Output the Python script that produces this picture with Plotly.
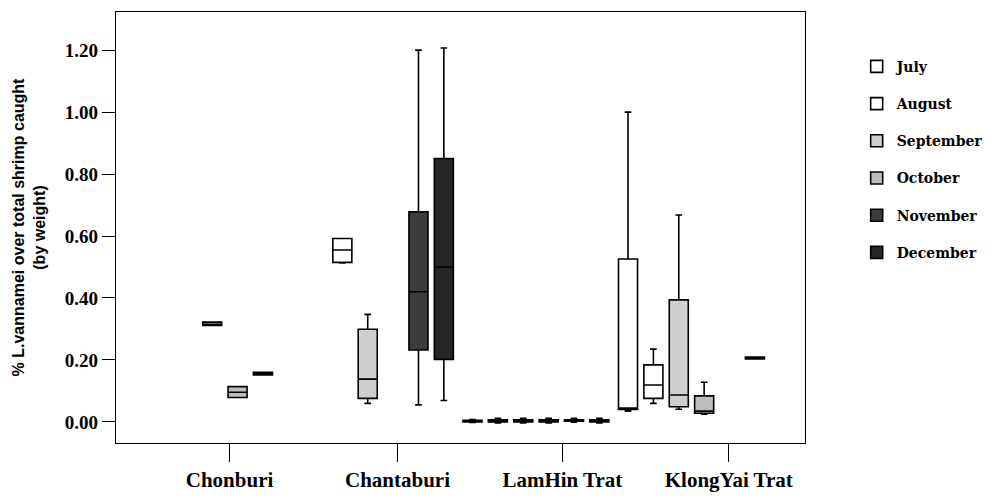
import plotly.graph_objects as go

regions = ["Chonburi", "Chantaburi", "LamHin Trat", "KlongYai Trat"]
months = ["July", "August", "September", "October", "November", "December"]

# region index (0..3) for each box of a month, then its five-number summary
july_pos = [2, 3]
july_low = [-0.002, 0.035]
july_q1 = [0.000, 0.040]
july_med = [0.002, 0.045]
july_q3 = [0.005, 0.526]
july_high = [0.008, 1.000]

august_pos = [1, 2, 3]
august_low = [0.513, -0.003, 0.060]
august_q1 = [0.515, 0.000, 0.076]
august_med = [0.555, 0.004, 0.119]
august_q3 = [0.592, 0.007, 0.184]
august_high = [0.592, 0.012, 0.235]

september_pos = [0, 1, 2, 3]
september_low = [0.311, 0.060, -0.003, 0.041]
september_q1 = [0.311, 0.076, 0.000, 0.049]
september_med = [0.315, 0.138, 0.004, 0.087]
september_q3 = [0.322, 0.299, 0.007, 0.394]
september_high = [0.322, 0.347, 0.012, 0.668]

october_pos = [0, 2, 3]
october_low = [0.079, -0.003, 0.025]
october_q1 = [0.079, 0.000, 0.028]
october_med = [0.096, 0.004, 0.035]
october_q3 = [0.114, 0.007, 0.084]
october_high = [0.114, 0.012, 0.128]

november_pos = [0, 1, 2]
november_low = [0.152, 0.055, -0.001]
november_q1 = [0.152, 0.232, 0.002]
november_med = [0.156, 0.420, 0.005]
november_q3 = [0.160, 0.678, 0.007]
november_high = [0.160, 1.200, 0.012]

december_pos = [1, 2, 3]
december_low = [0.069, -0.003, 0.203]
december_q1 = [0.202, 0.000, 0.203]
december_med = [0.500, 0.004, 0.206]
december_q3 = [0.850, 0.007, 0.209]
december_high = [1.207, 0.012, 0.209]

y_ticks = [0.0, 0.2, 0.4, 0.6, 0.8, 1.0, 1.2]
y_tick_text = ["0.00", "0.20", "0.40", "0.60", "0.80", "1.00", "1.20"]

stats = [
    (july_pos, july_low, july_q1, july_med, july_q3, july_high),
    (august_pos, august_low, august_q1, august_med, august_q3, august_high),
    (september_pos, september_low, september_q1, september_med, september_q3, september_high),
    (october_pos, october_low, october_q1, october_med, october_q3, october_high),
    (november_pos, november_low, november_q1, november_med, november_q3, november_high),
    (december_pos, december_low, december_q1, december_med, december_q3, december_high),
]
fills = ["#ffffff", "#ffffff", "#cfcfcf", "#bdbdbd", "#3c3c3c", "#262626"]

fig = go.Figure()
for i, (m, s) in enumerate(zip(months, stats)):
    pos, lo, q1, med, q3, hi = s
    fig.add_trace(go.Box(
        name=m, x=pos, lowerfence=lo, q1=q1, median=med, q3=q3, upperfence=hi,
        fillcolor=fills[i], line=dict(color="black", width=1.6),
        whiskerwidth=0.35, boxpoints=False, legendgroup=m, hoverinfo="y",
    ))

serif = "Liberation Serif"
fig.update_layout(
    width=1000, height=501,
    margin=dict(l=116, r=193, t=12, b=58),
    paper_bgcolor="white", plot_bgcolor="white",
    boxmode="group", boxgap=0.021, boxgroupgap=0.25,
    showlegend=True,
    legend=dict(
        x=1.075, y=0.91, xanchor="left", yanchor="top",
        font=dict(family="DejaVu Serif", size=14, color="black", weight="bold"),
        tracegroupgap=16, bgcolor="rgba(0,0,0,0)",
    ),
    xaxis=dict(
        range=[-0.70, 3.73], automargin=False,
        tickmode="array", tickvals=[0.03, 1.11, 2.17, 3.24], ticktext=regions,
        ticks="outside", ticklen=18, tickwidth=1, tickcolor="black",
        showline=True, linecolor="black", linewidth=1.2, mirror=True,
        showgrid=False, zeroline=False,
        tickfont=dict(family=serif, size=21, color="black", weight="bold"),
    ),
    yaxis=dict(
        range=[-0.068, 1.323], automargin=False,
        tickmode="array", tickvals=y_ticks, ticktext=y_tick_text,
        ticks="outside", ticklen=13, tickwidth=1, tickcolor="black",
        showline=True, linecolor="black", linewidth=1.2, mirror=True,
        showgrid=False, zeroline=False,
        tickfont=dict(family=serif, size=19, color="black", weight="bold"),
        title=dict(
            text="% L.vannamei over total shrimp caught<br>(by weight)",
            font=dict(family="Liberation Sans", size=16, color="black", weight="bold"),
            standoff=15,
        ),
    ),
)

fig.write_html("out.html")
